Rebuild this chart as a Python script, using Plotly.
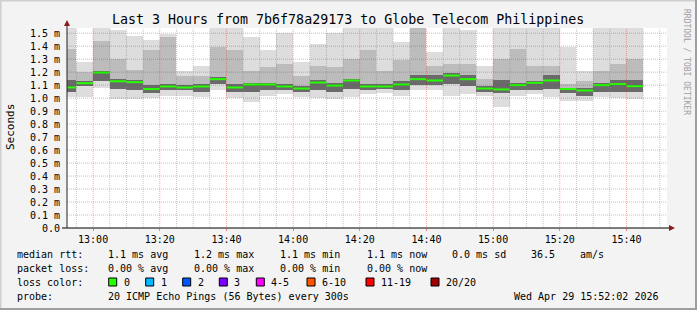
import plotly.graph_objects as go
from datetime import datetime, timedelta

# ---------------- data (ms) ----------------
first_col = datetime(2026, 4, 29, 12, 50, 0)
step_min = 5
ping_max = [1.60, 1.28, 1.60, 1.525, 1.48, 1.45, 1.49, 1.21, 1.245, 1.60, 1.60, 1.47, 1.37, 1.50, 1.28, 1.42, 1.50, 1.60,
            1.60, 1.60, 1.436, 1.60, 1.354, 1.60, 1.525, 1.25, 1.60, 1.60, 1.60, 1.60, 1.39, 1.21, 1.60, 1.60, 1.60]
ping_upper = [1.38, 1.20, 1.44, 1.30, 1.22, 1.37, 1.47, 1.17, 1.17, 1.39, 1.37, 1.21, 1.24, 1.26, 1.17, 1.25, 1.24, 1.30,
              1.37, 1.21, 1.29, 1.58, 1.25, 1.26, 1.26, 1.15, 1.30, 1.38, 1.25, 1.25, 1.11, 1.13, 1.21, 1.26, 1.30]
ping_dark_hi = [1.14, 1.13, 1.21, 1.15, 1.14, 1.10, 1.11, 1.10, 1.11, 1.16, 1.11, 1.12, 1.12, 1.11, 1.09, 1.14, 1.12, 1.15,
                1.11, 1.11, 1.13, 1.18, 1.18, 1.19, 1.18, 1.09, 1.14, 1.12, 1.13, 1.18, 1.08, 1.08, 1.12, 1.14, 1.14]
median = [1.082, 1.115, 1.197, 1.13, 1.123, 1.07, 1.09, 1.082, 1.09, 1.146, 1.082, 1.105, 1.105, 1.09, 1.074, 1.12, 1.097, 1.136,
          1.09, 1.09, 1.105, 1.146, 1.136, 1.174, 1.146, 1.074, 1.067, 1.10, 1.118, 1.136, 1.07, 1.059, 1.10, 1.108, 1.092]
ping_dark_lo = [1.05, 1.09, 1.13, 1.07, 1.06, 1.04, 1.06, 1.06, 1.05, 1.11, 1.05, 1.05, 1.06, 1.06, 1.05, 1.06, 1.05, 1.07,
                1.06, 1.07, 1.06, 1.10, 1.10, 1.11, 1.09, 1.05, 1.04, 1.06, 1.06, 1.07, 1.04, 1.02, 1.05, 1.05, 1.05]
ping_min = [1.005, 1.005, 1.08, 0.99, 0.99, 1.00, 1.02, 1.02, 1.01, 1.06, 1.00, 0.97, 1.02, 1.03, 1.01, 1.00, 0.99, 1.01,
            1.03, 1.04, 1.02, 1.06, 1.06, 1.02, 1.03, 1.02, 0.935, 1.02, 1.03, 1.01, 0.98, 0.98, 1.01, 1.00, 0.995]

y_tick_vals = [0.0, 0.1, 0.2, 0.3, 0.4, 0.5, 0.6, 0.7, 0.8, 0.9, 1.0, 1.1, 1.2, 1.3, 1.4, 1.5]
y_tick_text = ["0.0", "0.1 m", "0.2 m", "0.3 m", "0.4 m", "0.5 m", "0.6 m", "0.7 m", "0.8 m", "0.9 m",
               "1.0 m", "1.1 m", "1.2 m", "1.3 m", "1.4 m", "1.5 m"]
x_tick_text = ["13:00", "13:20", "13:40", "14:00", "14:20", "14:40", "15:00", "15:20", "15:40"]

loss_labels = ["0", "1", "2", "3", "4-5", "6-10", "11-19", "20/20"]
loss_colors = ["#26ff00", "#00b8ff", "#0059ff", "#7e00ff", "#ff00ff", "#ff5500", "#ff0000", "#a10000"]

title = "Last 3 Hours from 7b6f78a29173 to Globe Telecom Philippines"
rows = [
    [("median rtt:", 16), ("1.1 ms avg", 107), ("1.2 ms max", 193.3), ("1.1 ms min", 279.3),
     ("1.1 ms now", 366), ("0.0 ms sd", 451.7), ("36.5", 530), ("am/s", 579.3)],
    [("packet loss:", 16), ("0.00 % avg", 107), ("0.00 % max", 193.3), ("0.00 % min", 279.3),
     ("0.00 % now", 366)],
    [("loss color:", 16)],
    [("probe:", 16), ("20 ICMP Echo Pings (56 Bytes) every 300s", 107),
     ("Wed Apr 29 15:52:02 2026", 513)],
]

# ---------------- geometry ----------------
W, H = 697, 310
PL, PR, PT, PB = 67, 667, 28, 228
x_start = datetime(2026, 4, 29, 12, 52, 10)
x_end = x_start + timedelta(hours=3)
y_top = 1.54


def px(x):
    return (x - PL) / (PR - PL)


def py(y):
    return (PB - y) / (PB - PT)


FONT = "DejaVu Sans Mono"
n = len(median)
starts = [first_col + timedelta(minutes=step_min * i) for i in range(n)]
centers = [s + timedelta(minutes=step_min / 2) for s in starts]
width_ms = step_min * 60 * 1000

fig = go.Figure()


def band(lo, hi, color):
    fig.add_trace(go.Bar(x=centers, y=[h - l for h, l in zip(hi, lo)], base=lo, width=width_ms,
                         marker=dict(color=color, line=dict(width=0)), hoverinfo="skip",
                         showlegend=False))


band(ping_min, ping_max, "#dddddd")
band(ping_dark_lo, ping_upper, "#bcbcbc")
band(ping_dark_lo, ping_dark_hi, "#6a6a6a")

# median segments
mx, my = [], []
for s, m in zip(starts, median):
    mx += [s, s + timedelta(minutes=step_min), None]
    my += [m, m, None]
fig.add_trace(go.Scatter(x=mx, y=my, mode="lines", line=dict(color=loss_colors[0], width=2),
                         hoverinfo="skip", showlegend=False))

shapes = []
# grid (drawn above data like rrdtool)
t = datetime(2026, 4, 29, 12, 55, 0)
major_x = []
while t < x_end:
    is_major = (t.minute % 20 == 0)
    if is_major:
        major_x.append(t)
    shapes.append(dict(type="line", xref="x", yref="y", x0=t, x1=t, y0=0, y1=y_top, layer="above",
                       line=dict(color="rgba(255,0,0,0.35)" if is_major else "rgba(130,130,130,0.45)",
                                 width=1, dash="1px,1px")))
    t += timedelta(minutes=5)
for v in y_tick_vals[1:]:
    shapes.append(dict(type="line", xref="x", yref="y", x0=x_start, x1=x_end, y0=v, y1=v, layer="above",
                       line=dict(color="rgba(255,0,0,0.35)", width=1, dash="1px,1px")))

# axes lines and arrows
shapes.append(dict(type="line", xref="paper", yref="paper", x0=px(62), x1=px(670), y0=py(228), y1=py(228),
                   line=dict(color="#000000", width=1), layer="above"))
shapes.append(dict(type="line", xref="paper", yref="paper", x0=px(67), x1=px(67), y0=py(228), y1=py(25),
                   line=dict(color="#222222", width=1), layer="above"))
shapes.append(dict(type="path", xref="paper", yref="paper",
                   path=f"M {px(669)} {py(225)} L {px(675)} {py(228)} L {px(669)} {py(231)} Z",
                   fillcolor="#8b1a1a", line=dict(width=0), layer="above"))
shapes.append(dict(type="path", xref="paper", yref="paper",
                   path=f"M {px(64)} {py(26)} L {px(67)} {py(20)} L {px(70)} {py(26)} Z",
                   fillcolor="#8b1a1a", line=dict(width=0), layer="above"))

# frame shading
shapes.append(dict(type="rect", xref="paper", yref="paper", x0=px(0), x1=px(W), y0=py(0), y1=py(1.5),
                   fillcolor="#cfcfcf", line=dict(width=0), layer="below"))
shapes.append(dict(type="rect", xref="paper", yref="paper", x0=px(0), x1=px(1.5), y0=py(0), y1=py(H),
                   fillcolor="#cfcfcf", line=dict(width=0), layer="below"))
shapes.append(dict(type="rect", xref="paper", yref="paper", x0=px(W - 2), x1=px(W), y0=py(0), y1=py(H),
                   fillcolor="#9e9e9e", line=dict(width=0), layer="below"))
shapes.append(dict(type="rect", xref="paper", yref="paper", x0=px(0), x1=px(W), y0=py(H - 2), y1=py(H),
                   fillcolor="#9e9e9e", line=dict(width=0), layer="below"))

annotations = []
annotations.append(dict(text=title, xref="paper", yref="paper", x=px(348), y=py(19), showarrow=False,
                        xanchor="center", yanchor="middle", font=dict(family=FONT, size=13.3, color="#000")))
annotations.append(dict(text="Seconds", xref="paper", yref="paper", x=px(10), y=py(127), showarrow=False,
                        textangle=-90, xanchor="center", yanchor="middle",
                        font=dict(family=FONT, size=11, color="#000")))
annotations.append(dict(text="RRDTOOL / TOBI OETIKER", xref="paper", yref="paper", x=px(687), y=py(62),
                        showarrow=False, textangle=90, xanchor="center", yanchor="middle",
                        font=dict(family=FONT, size=8, color="#a0a0a0")))

row_y = [254.3, 268.3, 282.3, 296.2]
for r, items in enumerate(rows):
    for text, x in items:
        annotations.append(dict(text=text, xref="paper", yref="paper", x=px(x - 1.5), y=py(row_y[r]),
                                showarrow=False, xanchor="left", yanchor="middle",
                                font=dict(family=FONT, size=10, color="#000")))

box_x = [108.7, 145.7, 182.7, 219.3, 256.3, 307, 366, 431]
for lab, col, bx in zip(loss_labels, loss_colors, box_x):
    shapes.append(dict(type="rect", xref="paper", yref="paper", x0=px(bx), x1=px(bx + 8),
                       y0=py(278), y1=py(286), fillcolor=col, line=dict(color="#000", width=1)))
    annotations.append(dict(text=lab, xref="paper", yref="paper", x=px(bx + 13), y=py(row_y[2]),
                            showarrow=False, xanchor="left", yanchor="middle",
                            font=dict(family=FONT, size=10, color="#000")))

fig.update_layout(
    width=W, height=H, autosize=False,
    margin=dict(l=PL, r=W - PR, t=PT, b=H - PB, pad=0),
    paper_bgcolor="#f3f3f3", plot_bgcolor="#ffffff",
    barmode="overlay", bargap=0, showlegend=False,
    shapes=shapes, annotations=annotations,
    font=dict(family=FONT, size=10, color="#000"),
)
fig.update_xaxes(type="date", range=[x_start, x_end], tickvals=major_x, ticktext=x_tick_text,
                 showgrid=False, zeroline=False, showline=False, ticks="outside", ticklen=2,
                 tickcolor="rgba(255,0,0,0.5)", tickfont=dict(family=FONT, size=10, color="#000"),
                 fixedrange=True)
fig.update_yaxes(range=[0, y_top], tickvals=y_tick_vals, ticktext=y_tick_text, showgrid=False,
                 zeroline=False, showline=False, ticks="", ticklabelstandoff=6,
                 tickfont=dict(family=FONT, size=10, color="#000"), fixedrange=True)

fig.write_html("out.html", config={"displayModeBar": False})
